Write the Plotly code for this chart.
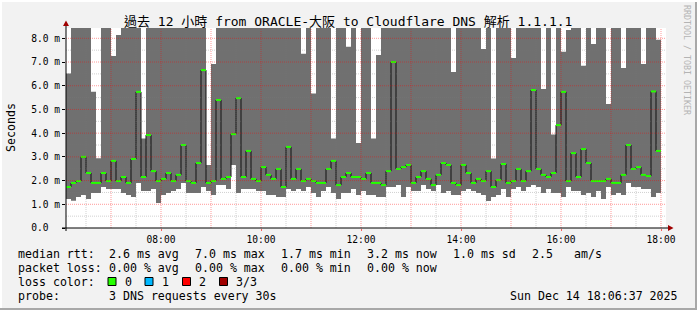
import plotly.graph_objects as go

# ---------------- data (ms) : 6-minute columns starting 06:06 ----------------
START_HOUR = 6.1      # 06:06
STEP_HOURS = 0.1      # 6 minutes
TOP = 9.0             # smoke above the visible range

median_ms = [1.73, 1.90, 1.98, 3.00, 2.32, 1.90, 1.90, 2.32, 1.98, 2.83,
             1.98, 2.15, 1.90, 2.91, 5.74, 2.15, 3.92, 2.40, 1.98, 2.07,
             2.32, 1.98, 2.24, 3.50, 1.98, 1.90, 2.74, 6.66, 1.90, 1.98,
             5.40, 2.07, 2.15, 3.96, 5.48, 2.15, 3.25, 2.07, 1.98, 2.57,
             2.24, 2.07, 2.49, 1.73, 3.42, 2.07, 2.49, 1.98, 2.07, 1.98,
             1.90, 1.90, 2.49, 2.83, 1.81, 2.15, 2.32, 2.15, 2.15, 2.07,
             2.32, 1.90, 1.90, 1.81, 2.40, 7.00, 2.49, 2.57, 2.66, 1.90,
             2.15, 2.40, 2.07, 1.81, 2.24, 2.74, 2.66, 1.90, 1.81, 2.66,
             2.32, 1.90, 2.07, 1.98, 2.40, 1.73, 2.02, 2.70, 1.90, 1.98,
             2.49, 1.98, 2.40, 5.82, 2.49, 2.24, 2.15, 2.32, 4.34, 5.74,
             1.98, 3.16, 2.15, 3.33, 2.74, 1.98, 1.98, 1.98, 2.07, 1.90,
             1.90, 2.24, 3.50, 2.49, 2.57, 2.24, 2.19, 5.76, 3.25]

min_ms = [1.22, 1.15, 1.31, 1.39, 1.22, 1.48, 1.48, 1.73, 1.64, 1.64,
          1.64, 1.48, 1.39, 1.31, 1.90, 1.56, 1.56, 1.64, 1.05, 1.39,
          1.48, 1.56, 1.64, 1.90, 1.48, 1.48, 1.48, 1.73, 1.56, 1.39,
          1.81, 1.81, 1.64, 2.66, 1.48, 1.64, 1.64, 1.64, 1.56, 1.56,
          1.39, 1.39, 1.31, 1.31, 1.64, 1.56, 1.64, 1.56, 1.73, 1.48,
          1.31, 1.56, 1.73, 1.48, 1.22, 1.48, 1.48, 1.64, 1.39, 1.56,
          1.39, 1.39, 1.31, 1.31, 1.73, 1.73, 1.81, 1.31, 1.73, 1.56,
          1.56, 1.81, 1.64, 1.56, 1.81, 1.48, 1.56, 1.39, 1.39, 1.56,
          1.64, 1.56, 1.48, 1.39, 1.14, 1.31, 1.39, 1.64, 1.31, 1.64,
          1.73, 1.56, 1.73, 1.81, 1.73, 1.48, 1.64, 1.48, 1.48, 1.31,
          1.73, 1.56, 1.56, 1.39, 1.48, 1.31, 1.56, 1.22, 1.73, 1.39,
          1.48, 1.39, 1.90, 1.73, 1.73, 1.64, 1.64, 1.31, 1.48]

T = TOP
max_ms = [6.52, T, T, T, T, 5.75, 2.94, T, T, 7.25,
          8.14, T, T, T, T, 3.77, T, T, T, T,
          T, T, T, T, T, T, T, T, 2.66, 6.92,
          T, T, T, T, T, T, T, T, T, T,
          T, T, T, T, T, T, T, 7.35, T, 5.67,
          T, T, T, 3.77, T, T, 7.64, T, 3.58, T,
          T, 3.77, 7.30, T, T, T, T, T, T, T,
          T, T, T, T, T, T, T, 6.58, T, T,
          T, T, T, 7.55, T, 2.93, T, T, T, 7.17,
          T, T, T, T, T, 5.86, T, 3.94, T, 7.43,
          8.35, T, T, 6.84, T, 7.76, T, T, 5.23, T,
          T, 6.75, T, T, T, 6.92, T, T, 7.94]

tick_hours = [8, 10, 12, 14, 16, 18]
tick_text = ["08:00", "10:00", "12:00", "14:00", "16:00", "18:00"]
y_ticks = [0, 1, 2, 3, 4, 5, 6, 7, 8]
y_text = ["0.0\u00a0\u00a0", "1.0 m", "2.0 m", "3.0 m", "4.0 m", "5.0 m",
          "6.0 m", "7.0 m", "8.0 m"]

# ---------------- geometry helpers (pixel -> paper) ----------------
W, H = 697, 310
L, R, TT, B = 66, 666, 28, 228
def px(x):
    return (x - L) / (R - L)
def py(y):
    return (B - y) / (B - TT)

X0, X1 = 6.1, 18.1
Y1 = 200 / 23.71

n = len(median_ms)
edges = [START_HOUR + STEP_HOURS * k for k in range(n + 1)]

def steps(vals):
    xs, ys = [], []
    for k, v in enumerate(vals):
        xs += [edges[k], edges[k + 1]]
        ys += [v, v]
    return xs, ys

sx, s_min = steps(min_ms)
_, s_max = steps(max_ms)

FONT = "DejaVu Sans Mono, Noto Sans CJK TC, monospace"

fig = go.Figure()
fig.add_trace(go.Scatter(x=sx, y=s_min, mode="lines", line=dict(width=0),
                         hoverinfo="skip", showlegend=False))
fig.add_trace(go.Scatter(x=sx, y=s_max, mode="lines", line=dict(width=0),
                         fill="tonexty", fillcolor="#707070", hoverinfo="skip", showlegend=False))
mx, my = steps(median_ms)
fig.add_trace(go.Scatter(x=mx, y=my, mode="lines",
                         line=dict(width=1, color="#101010"),
                         hoverinfo="skip", showlegend=False))
gx, gy = [], []
for k in range(n):
    gx += [edges[k], edges[k + 1], None]
    gy += [median_ms[k], median_ms[k], None]
fig.add_trace(go.Scatter(x=gx, y=gy, mode="lines", line=dict(width=2, color="#26ff00"),
                         hoverinfo="skip", showlegend=False, connectgaps=False))

shapes = []
# grid on top of data
DOT = "1px,1px"
RED = "rgba(255,0,0,0.4)"
GREY = "rgba(120,120,120,0.35)"
v = 0.5
while v < Y1:
    major = abs(v - round(v)) < 1e-9
    shapes.append(dict(type="line", xref="paper", yref="y", x0=0, x1=1, y0=v, y1=v, layer="above",
                       line=dict(width=1, dash=DOT, color=RED if major else GREY)))
    v += 0.5
h = 6.5
while h < X1:
    major = abs(h - round(h)) < 1e-9
    shapes.append(dict(type="line", xref="x", yref="paper", x0=h, x1=h, y0=0, y1=1, layer="above",
                       line=dict(width=1, dash=DOT, color=RED if major else GREY)))
    h += 0.5

# axes with arrows
shapes.append(dict(type="line", xref="paper", yref="paper", x0=px(66), x1=px(66), y0=py(231), y1=py(24),
                   line=dict(color="black", width=1), layer="above"))
shapes.append(dict(type="line", xref="paper", yref="paper", x0=px(62), x1=px(670), y0=py(228), y1=py(228),
                   line=dict(color="black", width=1), layer="above"))
shapes.append(dict(type="path", xref="paper", yref="paper", layer="above",
                   path=f"M {px(63)},{py(26)} L {px(69)},{py(26)} L {px(66)},{py(20.5)} Z",
                   fillcolor="#a00000", line=dict(width=0)))
shapes.append(dict(type="path", xref="paper", yref="paper", layer="above",
                   path=f"M {px(668)},{py(225)} L {px(668)},{py(231)} L {px(673.5)},{py(228)} Z",
                   fillcolor="#a00000", line=dict(width=0)))

# legend colour boxes
box_cols = ["#26ff00", "#00b8ff", "#ff0000", "#a00000"]
box_x = [108, 145, 182.5, 219.5]
for c, bx in zip(box_cols, box_x):
    shapes.append(dict(type="rect", xref="paper", yref="paper", x0=px(bx), x1=px(bx + 8),
                       y0=py(285.5), y1=py(277.5), fillcolor=c, line=dict(color="black", width=1)))

# frame
shapes.append(dict(type="rect", xref="paper", yref="paper", x0=px(0), x1=px(697), y0=py(308), y1=py(310),
                   fillcolor="#a8a8a8", line=dict(width=0)))
shapes.append(dict(type="rect", xref="paper", yref="paper", x0=px(695), x1=px(697), y0=py(0), y1=py(310),
                   fillcolor="#a8a8a8", line=dict(width=0)))
shapes.append(dict(type="rect", xref="paper", yref="paper", x0=px(0), x1=px(697), y0=py(0), y1=py(2),
                   fillcolor="#ffffff", line=dict(width=0)))
shapes.append(dict(type="rect", xref="paper", yref="paper", x0=px(0), x1=px(2), y0=py(0), y1=py(308),
                   fillcolor="#ffffff", line=dict(width=0)))

ann = []
def text(x, y, s, anchor="left", size=11.6, color="#000000", angle=0):
    ann.append(dict(x=px(x), y=py(y), xref="paper", yref="paper", text=s, showarrow=False,
                    xanchor=anchor, yanchor="middle", textangle=angle,
                    font=dict(family=FONT, size=size, color=color)))

text(347.5, 21.5, "過去 12 小時 from ORACLE-大阪 to Cloudflare DNS 解析 1.1.1.1", anchor="center", size=13)
text(11, 128, "Seconds", anchor="center", angle=-90)
text(687, 60, "RRDTOOL / TOBI OETIKER", anchor="center", size=8.3, color="#b4b4b4", angle=90)

col_x = [107.3, 193.3, 279.3, 365.3, 451.3]
row1 = ["2.6 ms avg", "7.0 ms max", "1.7 ms min", "3.2 ms now", "1.0 ms sd"]
row2 = ["0.00 % avg", "0.00 % max", "0.00 % min", "0.00 % now"]
text(16, 254, "median rtt:")
for x, s in zip(col_x, row1):
    text(x, 254, s)
text(530, 254, "2.5")
text(572, 254, "am/s")
text(16, 268, "packet loss:")
for x, s in zip(col_x, row2):
    text(x, 268, s)
text(16, 282, "loss color:")
for x, s in zip([123.3, 160, 197, 234.3], ["0", "1", "2", "3/3"]):
    text(x, 282, s)
text(16, 296.3, "probe:")
text(107.3, 296.3, "3 DNS requests every 30s")
text(680, 296.3, "Sun Dec 14 18:06:37 2025", anchor="right")

fig.update_layout(
    width=W, height=H,
    margin=dict(l=L, r=W - R, t=TT, b=H - B, pad=0),
    paper_bgcolor="#f2f2f2", plot_bgcolor="#ffffff",
    shapes=shapes, annotations=ann, showlegend=False,
    font=dict(family=FONT, size=9.6, color="black"),
    xaxis=dict(range=[X0, X1], tickvals=tick_hours, ticktext=tick_text, showgrid=False,
               zeroline=False, showline=False, ticks="outside", ticklen=2,
               tickcolor="rgba(255,0,0,0.6)", tickfont=dict(size=9.6), fixedrange=True),
    yaxis=dict(range=[0, Y1], tickvals=y_ticks, ticktext=y_text, showgrid=False,
               zeroline=False, showline=False, ticks="outside", ticklen=3, tickcolor="black",
               tickfont=dict(size=9.6), fixedrange=True),
)
fig.write_html("out.html")
